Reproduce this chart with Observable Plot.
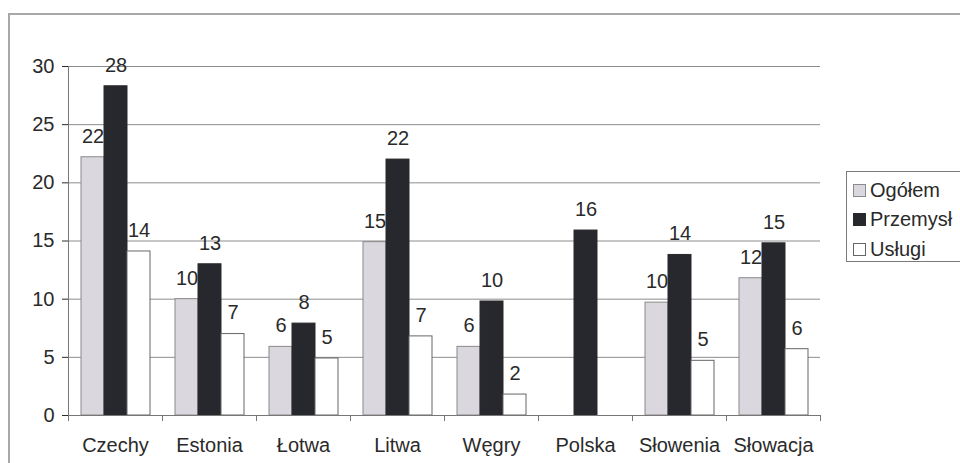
<!DOCTYPE html>
<html>
<head>
<meta charset="utf-8">
<script src="https://cdn.jsdelivr.net/npm/d3@7"></script>
<script src="https://cdn.jsdelivr.net/npm/@observablehq/plot@0.6"></script>
<style>
  html, body { margin: 0; padding: 0; background: #ffffff; overflow: hidden; }
  #wrap { position: relative; width: 960px; height: 463px; overflow: hidden; font-family: 'Liberation Sans', Arial, sans-serif; color: #2a2a2a; }
  #outer { position: absolute; left: 8px; top: 13px; width: 1000px; height: 500px; border-left: 2px solid #a8a8a8; border-top: 2px solid #a8a8a8; }
  #chart { position: absolute; left: 0; top: 0; }
  #legend { position: absolute; left: 846px; top: 171px; width: 140px; height: 89px; border: 1px solid #7a7a7a; background: #fff; }
  .item { position: absolute; left: 6px; height: 24px; display: flex; align-items: center; font-size: 20px; white-space: nowrap; }
  .sw { width: 13px; height: 13px; box-sizing: border-box; border: 1px solid #666; margin-right: 4px; }
</style>
</head>
<body>
<div id="wrap">
  <div id="outer"></div>
  <div id="chart"></div>
  <div id="legend"></div>
</div>
<script>
const countries = ["Czechy", "Estonia", "Łotwa", "Litwa", "Węgry", "Polska", "Słowenia", "Słowacja"];
const series = ["Ogółem", "Przemysł", "Usługi"];
const ogolem   = [22.2, 10.0, 5.9, 14.9, 5.9, null, 9.7, 11.8];
const przemysl = [28.3, 13.0, 7.9, 22.0, 9.8, 15.9, 13.8, 14.8];
const uslugi   = [14.1,  7.0, 4.9,  6.8, 1.8, null, 4.7,  5.7];
const yTicks = [0, 5, 10, 15, 20, 25, 30];
const yDomain = [0, 30];
const seriesColors = ["#dbd7de", "#26282e", "#ffffff"];
const seriesStrokes = ["#8a8a8a", "#2a2a2a", "#666666"];

const seriesValues = [ogolem, przemysl, uslugi];
const rows = [];
countries.forEach((c, i) => {
  series.forEach((s, j) => {
    const v = seriesValues[j][i];
    if (v != null) rows.push({country: c, series: s, value: v});
  });
});

const fmt = d3.format(".0f");

function axisLines(index, scales, values, dimensions) {
  const {fx, y} = scales;
  const {width, marginLeft, marginRight} = dimensions;
  const g = d3.create("svg:g").attr("stroke", "#777").attr("stroke-width", 1).attr("fill", "none");
  const y0 = y(yDomain[0]);
  g.append("line").attr("x1", marginLeft + 0.5).attr("x2", marginLeft + 0.5).attr("y1", y(yDomain[1])).attr("y2", y0 + 6);
  g.append("line").attr("x1", marginLeft).attr("x2", width - marginRight).attr("y1", y0 + 0.5).attr("y2", y0 + 0.5);
  if (fx) {
    const edges = countries.map(c => fx(c)).concat([fx(countries[countries.length - 1]) + fx.step()]);
    for (const xe of edges) {
      g.append("line").attr("x1", xe + 0.5).attr("x2", xe + 0.5).attr("y1", y0).attr("y2", y0 + 6);
    }
  }
  return g.node();
}

const chart = Plot.plot({
  width: 960,
  height: 463,
  marginLeft: 66,
  marginRight: 138,
  marginTop: 66,
  marginBottom: 48,
  style: {fontFamily: "'Liberation Sans', Arial, sans-serif", fontSize: "20px", color: "#2a2a2a", background: "transparent", overflow: "visible"},
  fx: {domain: countries, padding: 0, axis: "bottom", tickSize: 0, tickPadding: 22, label: null},
  x: {domain: series, paddingInner: 0, paddingOuter: 0.47, axis: null},
  y: {domain: yDomain, ticks: yTicks, tickSize: 6, tickPadding: 8, label: null},
  color: {domain: series, range: seriesColors},
  marks: [
    Plot.ruleY(yTicks.slice(1), {stroke: "#8c8c8c", strokeWidth: 1}),
    Plot.barY(rows, {fx: "country", x: "series", y: "value", fill: "series",
      stroke: d => seriesStrokes[series.indexOf(d.series)], strokeWidth: 1}),
    Plot.frame({facet: "super", stroke: "#777",
      render: (index, scales, values, dimensions) => axisLines(index, scales, values, dimensions)}),
    Plot.text(rows, {fx: "country", x: "series", y: "value", text: d => fmt(d.value),
      dy: -21, fontSize: 20, fill: "#2a2a2a"})
  ]
});
document.getElementById("chart").appendChild(chart);

const legend = document.getElementById("legend");
series.forEach((s, j) => {
  const item = document.createElement("div");
  item.className = "item";
  item.style.top = (6 + j * 29.5) + "px";
  const sw = document.createElement("div");
  sw.className = "sw";
  sw.style.background = seriesColors[j];
  sw.style.borderColor = seriesStrokes[j];
  const t = document.createElement("span");
  t.textContent = s;
  item.appendChild(sw);
  item.appendChild(t);
  legend.appendChild(item);
});
</script>
</body>
</html>
